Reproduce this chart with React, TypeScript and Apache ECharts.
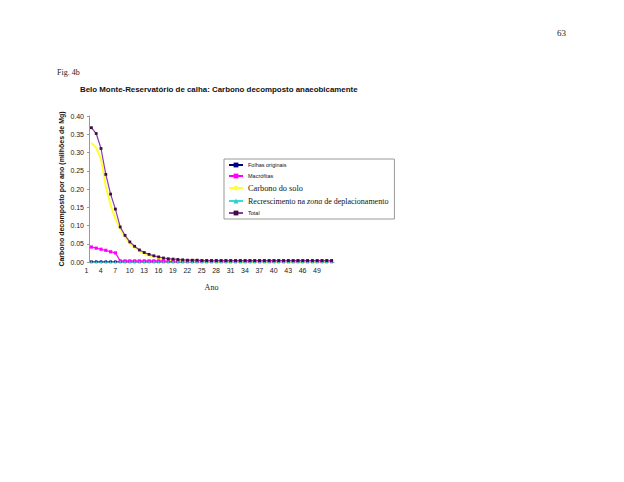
import React, { useEffect, useRef } from "react";
import * as echarts from "echarts";

const years: string[] = [];
for (let y = 1; y <= 51; y++) years.push(String(y));

const folhasOriginais = [
  0.001, 0.001, 0.001, 0.001, 0.001, 0.001, 0.001, 0.001, 0.001, 0.001,
  0.001, 0.001, 0.001, 0.001, 0.001, 0.001, 0.001, 0.001, 0.001, 0.001,
  0.001, 0.001, 0.001, 0.001, 0.001, 0.001, 0.001, 0.001, 0.001, 0.001,
  0.001, 0.001, 0.001, 0.001, 0.001, 0.001, 0.001, 0.001, 0.001, 0.001,
  0.001, 0.001, 0.001, 0.001, 0.001, 0.001, 0.001, 0.001, 0.001, 0.001,
  0.001,
];

const macrofitas = [
  0.041, 0.038, 0.035, 0.032, 0.028, 0.025, 0.003, 0.003, 0.003, 0.003,
  0.003, 0.003, 0.003, 0.003, 0.003, 0.003, 0.003, 0.003, 0.003, 0.003,
  0.003, 0.003, 0.003, 0.003, 0.003, 0.003, 0.003, 0.003, 0.003, 0.003,
  0.003, 0.003, 0.003, 0.003, 0.003, 0.003, 0.003, 0.003, 0.003, 0.003,
  0.003, 0.003, 0.003, 0.003, 0.003, 0.003, 0.003, 0.003, 0.003, 0.003,
  0.003,
];

const carbonoSolo = [
  0.326, 0.313, 0.282, 0.207, 0.156, 0.118, 0.091, 0.068, 0.051, 0.040,
  0.030, 0.023, 0.018, 0.014, 0.011, 0.008, 0.006, 0.005, 0.004, 0.003,
  0.002, 0.002, 0.002, 0.001, 0.001, 0.001, 0.001, 0.001, 0.001, 0.001,
  0.001, 0.001, 0.001, 0.001, 0.001, 0.001, 0.001, 0.001, 0.001, 0.001,
  0.001, 0.001, 0.001, 0.001, 0.001, 0.001, 0.001, 0.001, 0.001, 0.001,
  0.001,
];

const recrescimento = [
  0.0, 0.0, 0.0, 0.0, 0.0, 0.0, 0.0, 0.0, 0.0, 0.0,
  0.0, 0.0, 0.0, 0.0, 0.0, 0.0, 0.0, 0.0, 0.0, 0.0,
  0.0, 0.0, 0.0, 0.0, 0.0, 0.0, 0.0, 0.0, 0.0, 0.0,
  0.0, 0.0, 0.0, 0.0, 0.0, 0.0, 0.0, 0.0, 0.0, 0.0,
  0.0, 0.0, 0.0, 0.0, 0.0, 0.0, 0.0, 0.0, 0.0, 0.0,
  0.0,
];

const total = [
  0.368, 0.352, 0.311, 0.240, 0.186, 0.145, 0.096, 0.073, 0.055, 0.043,
  0.033, 0.026, 0.021, 0.017, 0.014, 0.011, 0.009, 0.008, 0.007, 0.006,
  0.005, 0.005, 0.005, 0.004, 0.004, 0.004, 0.004, 0.004, 0.004, 0.004,
  0.004, 0.004, 0.004, 0.004, 0.004, 0.004, 0.004, 0.004, 0.004, 0.004,
  0.004, 0.004, 0.004, 0.004, 0.004, 0.004, 0.004, 0.004, 0.004, 0.004,
  0.004,
];

const SANS = "Liberation Sans, Arial, sans-serif";
const SERIF = "Liberation Serif, Times New Roman, serif";

const N_FOLHAS = "Folhas originais";
const N_MAC = "Macrófitas";
const N_SOLO = "Carbono do solo";
const N_REC = "Recrescimento na zona de deplacionamento";
const N_TOTAL = "Total";

export default function App() {
  const ref = useRef<HTMLDivElement>(null);
  useEffect(() => {
    document.body.style.margin = "0";
    if (!ref.current) return;
    const chart = echarts.init(ref.current, undefined, { renderer: "svg" });
    chart.setOption({
      animation: false,
      backgroundColor: "#ffffff",
      title: {
        text: "Belo Monte-Reservatório de calha: Carbono decomposto anaeobicamente",
        left: 80,
        top: 85,
        padding: 0,
        textStyle: { fontFamily: SANS, fontSize: 7.9, fontWeight: "bold", color: "#111" },
      },
      graphic: [
        {
          type: "text",
          left: 557,
          top: 28,
          style: { text: "63", font: `9px ${SERIF}`, fill: "#222" },
        },
        {
          type: "text",
          left: 57,
          top: 68,
          style: { text: "Fig. 4b", font: `8px ${SERIF}`, fill: "#222" },
        },
      ],
      legend: {
        orient: "vertical",
        left: 224,
        top: 159,
        padding: [3, 6, 3, 4],
        itemGap: 5,
        itemWidth: 14,
        itemHeight: 6,
        borderColor: "#999",
        borderWidth: 1,
        textStyle: {
          fontFamily: SERIF,
          fontSize: 8,
          color: "#111",
          rich: {
            a: { fontFamily: SERIF, fontSize: 8, color: "#111" },
            i: { fontFamily: SERIF, fontSize: 8, fontStyle: "italic", color: "#111" },
          },
        },
        formatter: (name: string) =>
          name === N_REC ? "{a|Recrescimento na }{i|zona}{a| de deplacionamento}" : name,
        data: [
          { name: N_FOLHAS, textStyle: { fontFamily: SANS, fontSize: 5.5 } },
          { name: N_MAC, textStyle: { fontFamily: SANS, fontSize: 5.5 } },
          { name: N_SOLO, textStyle: { fontFamily: SERIF, fontSize: 8.3 } },
          { name: N_REC },
          { name: N_TOTAL, textStyle: { fontFamily: SANS, fontSize: 5.5 } },
        ],
      },
      grid: { left: 89, right: 290, top: 116, bottom: 220, containLabel: false },
      xAxis: {
        type: "category",
        data: years,
        boundaryGap: true,
        name: "Ano",
        nameLocation: "middle",
        nameGap: 21,
        nameTextStyle: { fontFamily: SERIF, fontSize: 8, color: "#222" },
        axisLine: { lineStyle: { color: "#999", width: 1 } },
        axisTick: { show: false },
        axisLabel: {
          interval: 2,
          fontFamily: SANS,
          fontSize: 7,
          color: "#222",
          margin: 5,
          padding: [0, 10, 0, 0],
        },
        splitLine: { show: false },
      },
      yAxis: {
        type: "value",
        min: 0,
        max: 0.4,
        interval: 0.05,
        name: "Carbono decomposto por ano (milhões de Mg)",
        nameLocation: "middle",
        nameGap: 24,
        nameTextStyle: { fontFamily: SANS, fontSize: 7, fontWeight: "bold", color: "#111" },
        axisLine: { show: true, lineStyle: { color: "#999", width: 1 } },
        axisTick: { show: true, length: 2, lineStyle: { color: "#999" } },
        axisLabel: {
          fontFamily: SANS,
          fontSize: 7,
          color: "#222",
          margin: 5,
          formatter: (v: number) => v.toFixed(2),
        },
        splitLine: { show: false },
      },
      series: [
        {
          name: N_FOLHAS,
          type: "line",
          data: folhasOriginais,
          symbol: "rect",
          symbolSize: 2.5,
          showAllSymbol: true,
          lineStyle: { color: "#000080", width: 1 },
          itemStyle: { color: "#000080" },
        },
        {
          name: N_MAC,
          type: "line",
          data: macrofitas,
          symbol: "rect",
          symbolSize: 3.2,
          showAllSymbol: true,
          lineStyle: { color: "#ff00ff", width: 1.2 },
          itemStyle: { color: "#ff00ff" },
        },
        {
          name: N_SOLO,
          type: "line",
          data: carbonoSolo,
          symbol: "none",
          lineStyle: { color: "#ffff33", width: 2 },
          itemStyle: { color: "#ffff33" },
        },
        {
          name: N_REC,
          type: "line",
          data: recrescimento,
          symbol: "triangle",
          symbolSize: 3,
          showAllSymbol: true,
          lineStyle: { color: "#33dddd", width: 1.2 },
          itemStyle: { color: "#33cccc" },
        },
        {
          name: N_TOTAL,
          type: "line",
          data: total,
          symbol: "rect",
          symbolSize: 2.8,
          showAllSymbol: true,
          lineStyle: { color: "#8a3aa8", width: 1.2 },
          itemStyle: { color: "#3a1040" },
        },
      ],
    });
    return () => chart.dispose();
  }, []);
  return <div ref={ref} style={{ width: 624, height: 482 }} />;
}
